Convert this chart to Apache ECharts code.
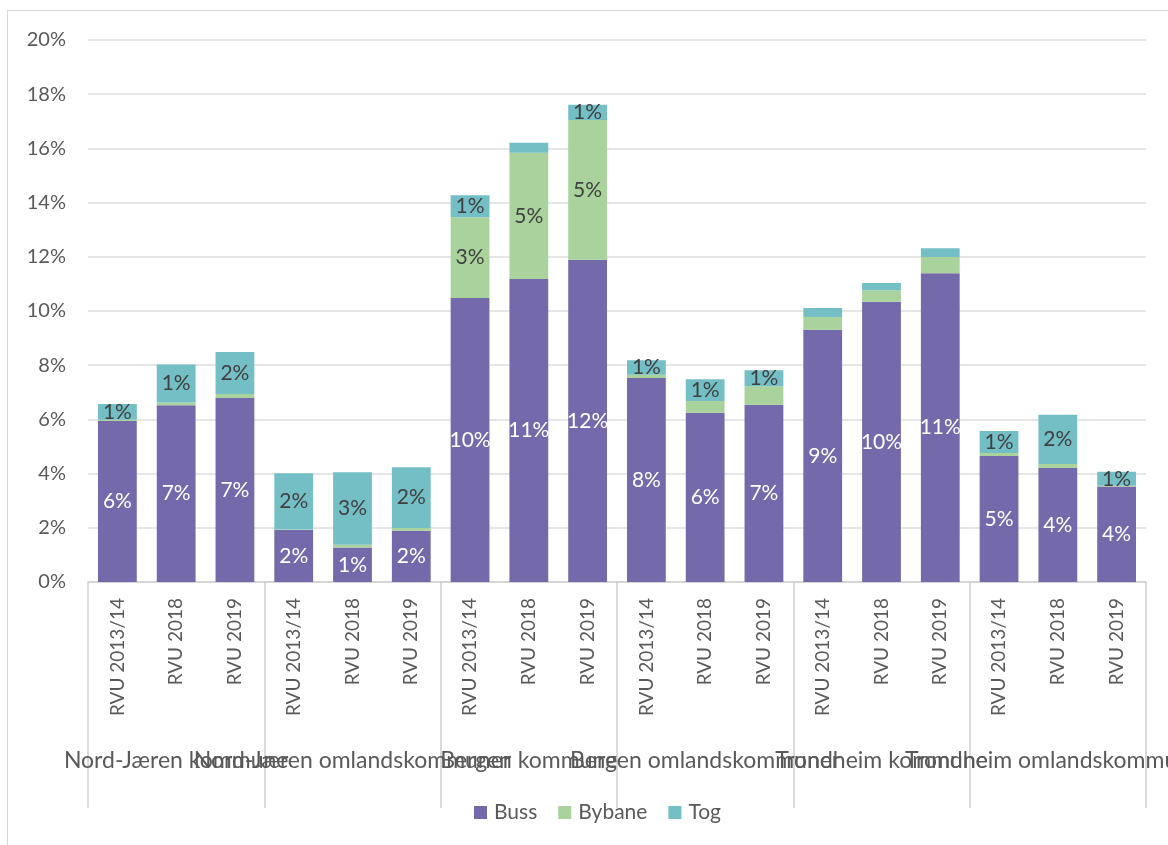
<!DOCTYPE html>
<html>
<head>
<meta charset="utf-8">
<script src="https://cdn.jsdelivr.net/npm/echarts@6/dist/echarts.min.js"></script>
<style>
  html, body { margin: 0; padding: 0; background: #fff; overflow: hidden; }
  #frame { position: absolute; left: 7px; top: 10px; width: 1200px; height: 900px; border: 1px solid #d9d9d9; box-sizing: border-box; }
  #chart { position: absolute; left: 0; top: 0; width: 1168px; height: 845px; }
</style>
</head>
<body>
<div id="frame"></div>
<div id="chart"></div>
<script>
// Survey rounds within each area
const rounds = ['RVU 2013/14', 'RVU 2018', 'RVU 2019'];
// Areas (outer category level)
const areas = ['Nord-Jæren kommune', 'Nord-Jæren omlandskommuner', 'Bergen kommune',
               'Bergen omlandskommuner', 'Trondheim kommune', 'Trondheim omlandskommuner'];

// Share of trips (%) per mode, 3 rounds per area in area order
const buss   = [5.94, 6.52, 6.79,  1.92, 1.27, 1.89,  10.48, 11.18, 11.89,  7.53, 6.25, 6.54,  9.31, 10.34, 11.39,  4.65, 4.21, 3.52];
const bybane = [0.05, 0.10, 0.15,  0.02, 0.10, 0.10,   2.98,  4.66,  5.16,  0.12, 0.43, 0.68,  0.47,  0.43,  0.60,  0.11, 0.14, 0.03];
const tog    = [0.58, 1.41, 1.55,  2.07, 2.68, 2.24,   0.81,  0.37,  0.56,  0.53, 0.80, 0.59,  0.33,  0.26,  0.33,  0.81, 1.82, 0.52];

// Y-axis ticks
const yTicks = { min: 0, max: 20, interval: 2 };

const categories = [];
areas.forEach(() => rounds.forEach(r => categories.push(r)));

const FONT = 'Lato, "Open Sans", sans-serif';
const grey = '#595959';

function labelled(values, minShown, color) {
  return values.map(v => ({
    value: v,
    label: { show: v >= minShown, color: color }
  }));
}

function series(name, values, color, minShown, labelColor) {
  return {
    name: name,
    type: 'bar',
    stack: 'total',
    barCategoryGap: '34%',
    itemStyle: { color: color },
    label: {
      show: true,
      position: 'inside',
      fontFamily: FONT,
      fontSize: 21,
      color: labelColor,
      formatter: p => Math.round(p.value) + '%'
    },
    data: labelled(values, minShown, labelColor)
  };
}

const chart = echarts.init(document.getElementById('chart'), null, { renderer: 'canvas' });
chart.setOption({
  animation: false,
  textStyle: { fontFamily: FONT },
  grid: { left: 88, right: 22, top: 40, bottom: 263, containLabel: false, outerBoundsMode: 'none' },
  legend: {
    data: ['Buss', 'Bybane', 'Tog'],
    top: 797,
    left: 469,
    icon: 'rect',
    itemWidth: 13,
    itemHeight: 13,
    itemGap: 21,
    textStyle: { fontFamily: FONT, fontSize: 21, color: grey, padding: [0, 0, 0, 2] }
  },
  xAxis: [
    {
      type: 'category',
      data: categories,
      axisLine: { lineStyle: { color: '#cfcfcf', width: 1.5 } },
      axisTick: { show: false },
      axisLabel: {
        interval: 0,
        rotate: 90,
        margin: 16,
        fontFamily: FONT,
        fontSize: 19,
        color: grey
      }
    },
    {
      type: 'category',
      data: areas,
      position: 'bottom',
      axisLine: { show: false },
      axisTick: { show: true, length: 226, interval: 0, lineStyle: { color: '#cfcfcf', width: 1.5 } },
      axisLabel: {
        interval: 0,
        margin: 167,
        hideOverlap: false,
        fontFamily: FONT,
        fontSize: 23,
        color: grey
      },
      splitLine: { show: false }
    }
  ],
  yAxis: {
    type: 'value',
    min: yTicks.min,
    max: yTicks.max,
    interval: yTicks.interval,
    axisLine: { show: false },
    axisTick: { show: false },
    splitLine: { lineStyle: { color: '#dedede', width: 1.5 } },
    axisLabel: {
      margin: 22,
      fontFamily: FONT,
      fontSize: 20,
      color: grey,
      formatter: v => v + '%'
    }
  },
  series: [
    series('Buss', buss, '#7469aa', 0, '#ffffff'),
    series('Bybane', bybane, '#a9d29c', 1.5, '#404040'),
    series('Tog', tog, '#74bfc6', 0.5, '#404040')
  ]
});
</script>
</body>
</html>
